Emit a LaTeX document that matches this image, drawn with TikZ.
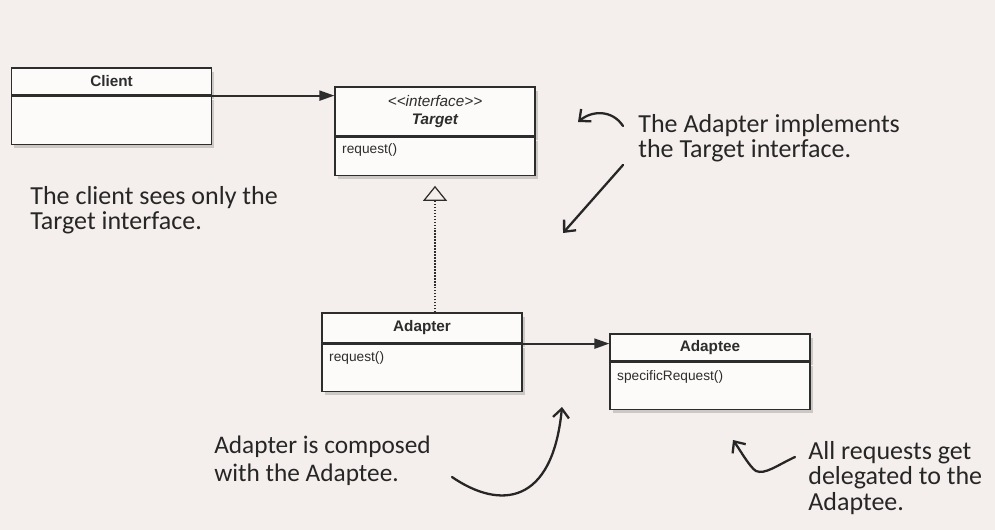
\documentclass[tikz,border=0pt]{standalone}
\usepackage{fontspec}
\usepackage{xcolor}
\usepackage{tikz}
\usetikzlibrary{positioning,arrows.meta,shadows}
\newfontfamily\umlfont{Liberation Sans}
\newfontfamily\handfont{Carlito}
\definecolor{paper}{RGB}{244,239,236}
\definecolor{boxfill}{RGB}{252,251,249}
\definecolor{ink}{RGB}{45,45,45}
\definecolor{pencil}{RGB}{38,38,38}

\begin{document}
\begin{tikzpicture}[
  head/.style={rectangle, draw=ink, fill=boxfill, line width=0.7pt, minimum width=4cm,
               align=center, inner sep=1pt, text=ink,
               font=\umlfont\bfseries\fontsize{8.7}{10}\selectfont,
               drop shadow={shadow xshift=1.5pt, shadow yshift=-2pt, opacity=0.35}},
  body/.style={rectangle, draw=ink, fill=boxfill, line width=0.7pt, minimum width=4cm,
               drop shadow={shadow xshift=1.5pt, shadow yshift=-2pt, opacity=0.35}},
  member/.style={font=\umlfont\fontsize{7.8}{9}\selectfont, text=ink, inner sep=0pt},
  note/.style={font=\handfont\fontsize{14.8}{14.5}\selectfont, text=pencil,
               align=left, inner sep=0pt},
  assoc/.style={-{Triangle[length=0.3cm, width=0.2cm]}, line width=1.1pt, color=ink},
  realize/.style={-{Triangle[open, length=0.3cm, width=0.48cm]}, densely dotted,
                  line width=0.7pt, color=ink, shorten >=0.2cm},
  pointer/.style={-{Straight Barb[length=0.18cm, width=0.32cm]}, line width=1.3pt,
                  color=pencil, line cap=round}
]
  \fill[paper] (0,0) rectangle (19.9,-10.6);

  \node[head, minimum height=0.54cm] (client) at (2.23,-1.63) {Client};
  \node[body, minimum height=0.96cm, below=0pt of client] (clientbody) {};

  \node[head, minimum height=0.98cm] (target) at (8.7,-2.23)
    {{\mdseries\itshape <<interface>>}\\{\itshape Target}};
  \node[body, minimum height=0.76cm, below=0pt of target] (targetbody) {};
  \node[member, below right=0.14cm and 0.15cm of targetbody.north west] (targetop) {request()};

  \node[head, minimum height=0.6cm] (adapter) at (8.44,-6.56) {Adapter};
  \node[body, minimum height=0.94cm, below=0pt of adapter] (adapterbody) {};
  \node[member, below right=0.16cm and 0.15cm of adapterbody.north west] (adapterop) {request()};

  \node[head, minimum height=0.54cm] (adaptee) at (14.2,-6.95) {Adaptee};
  \node[body, minimum height=0.94cm, below=0pt of adaptee] (adapteebody) {};
  \node[member, below right=0.18cm and 0.15cm of adapteebody.north west] (adapteeop) {specificRequest()};

  \draw[assoc] (clientbody.north east) -- (clientbody.north east -| target.west);
  \draw[assoc] (adapterbody.north east) -- (adapterbody.north east -| adaptee.west);
  \draw[realize] (adapter.north -| targetbody.south) -- (targetbody.south);

  \node[note, anchor=north west] (seesnote) at (0.6,-3.72)
    {The client sees only the\\Target interface.};
  \node[note, anchor=north west] (implnote) at (12.76,-2.28)
    {The Adapter implements\\the Target interface.};
  \node[note, font=\handfont\fontsize{14.4}{16}\selectfont] (composednote) at (6.45,-9.22)
    {Adapter is composed\\with the Adaptee.};
  \node[note, anchor=north west] (delegnote) at (16.16,-8.82)
    {All requests get\\delegated to the\\Adaptee.};

  \coordinate (curlfrom) at (12.46,-2.52);
  \coordinate (curlto) at (11.56,-2.44);
  \coordinate (downfrom) at (12.46,-3.3);
  \coordinate (downto) at (11.26,-4.66);
  \coordinate (upfrom) at (9.04,-9.54);
  \coordinate (upto) at (11.24,-8.14);
  \coordinate (backfrom) at (15.9,-9.14);
  \coordinate (backto) at (14.66,-8.8);

  \draw[pointer] (curlfrom) .. controls (12.25,-2.2) and (11.85,-2.2) .. (curlto);
  \draw[pointer] (downfrom) -- (downto);
  \draw[pointer] (upfrom) .. controls (10.0,-10.2) and (11.05,-10.1) .. (upto);
  \draw[pointer] (backfrom) .. controls (15.55,-9.3) and (15.3,-9.5) .. (15.12,-9.42)
    .. controls (15.0,-9.35) and (14.8,-9.0) .. (backto);
\end{tikzpicture}
\end{document}
